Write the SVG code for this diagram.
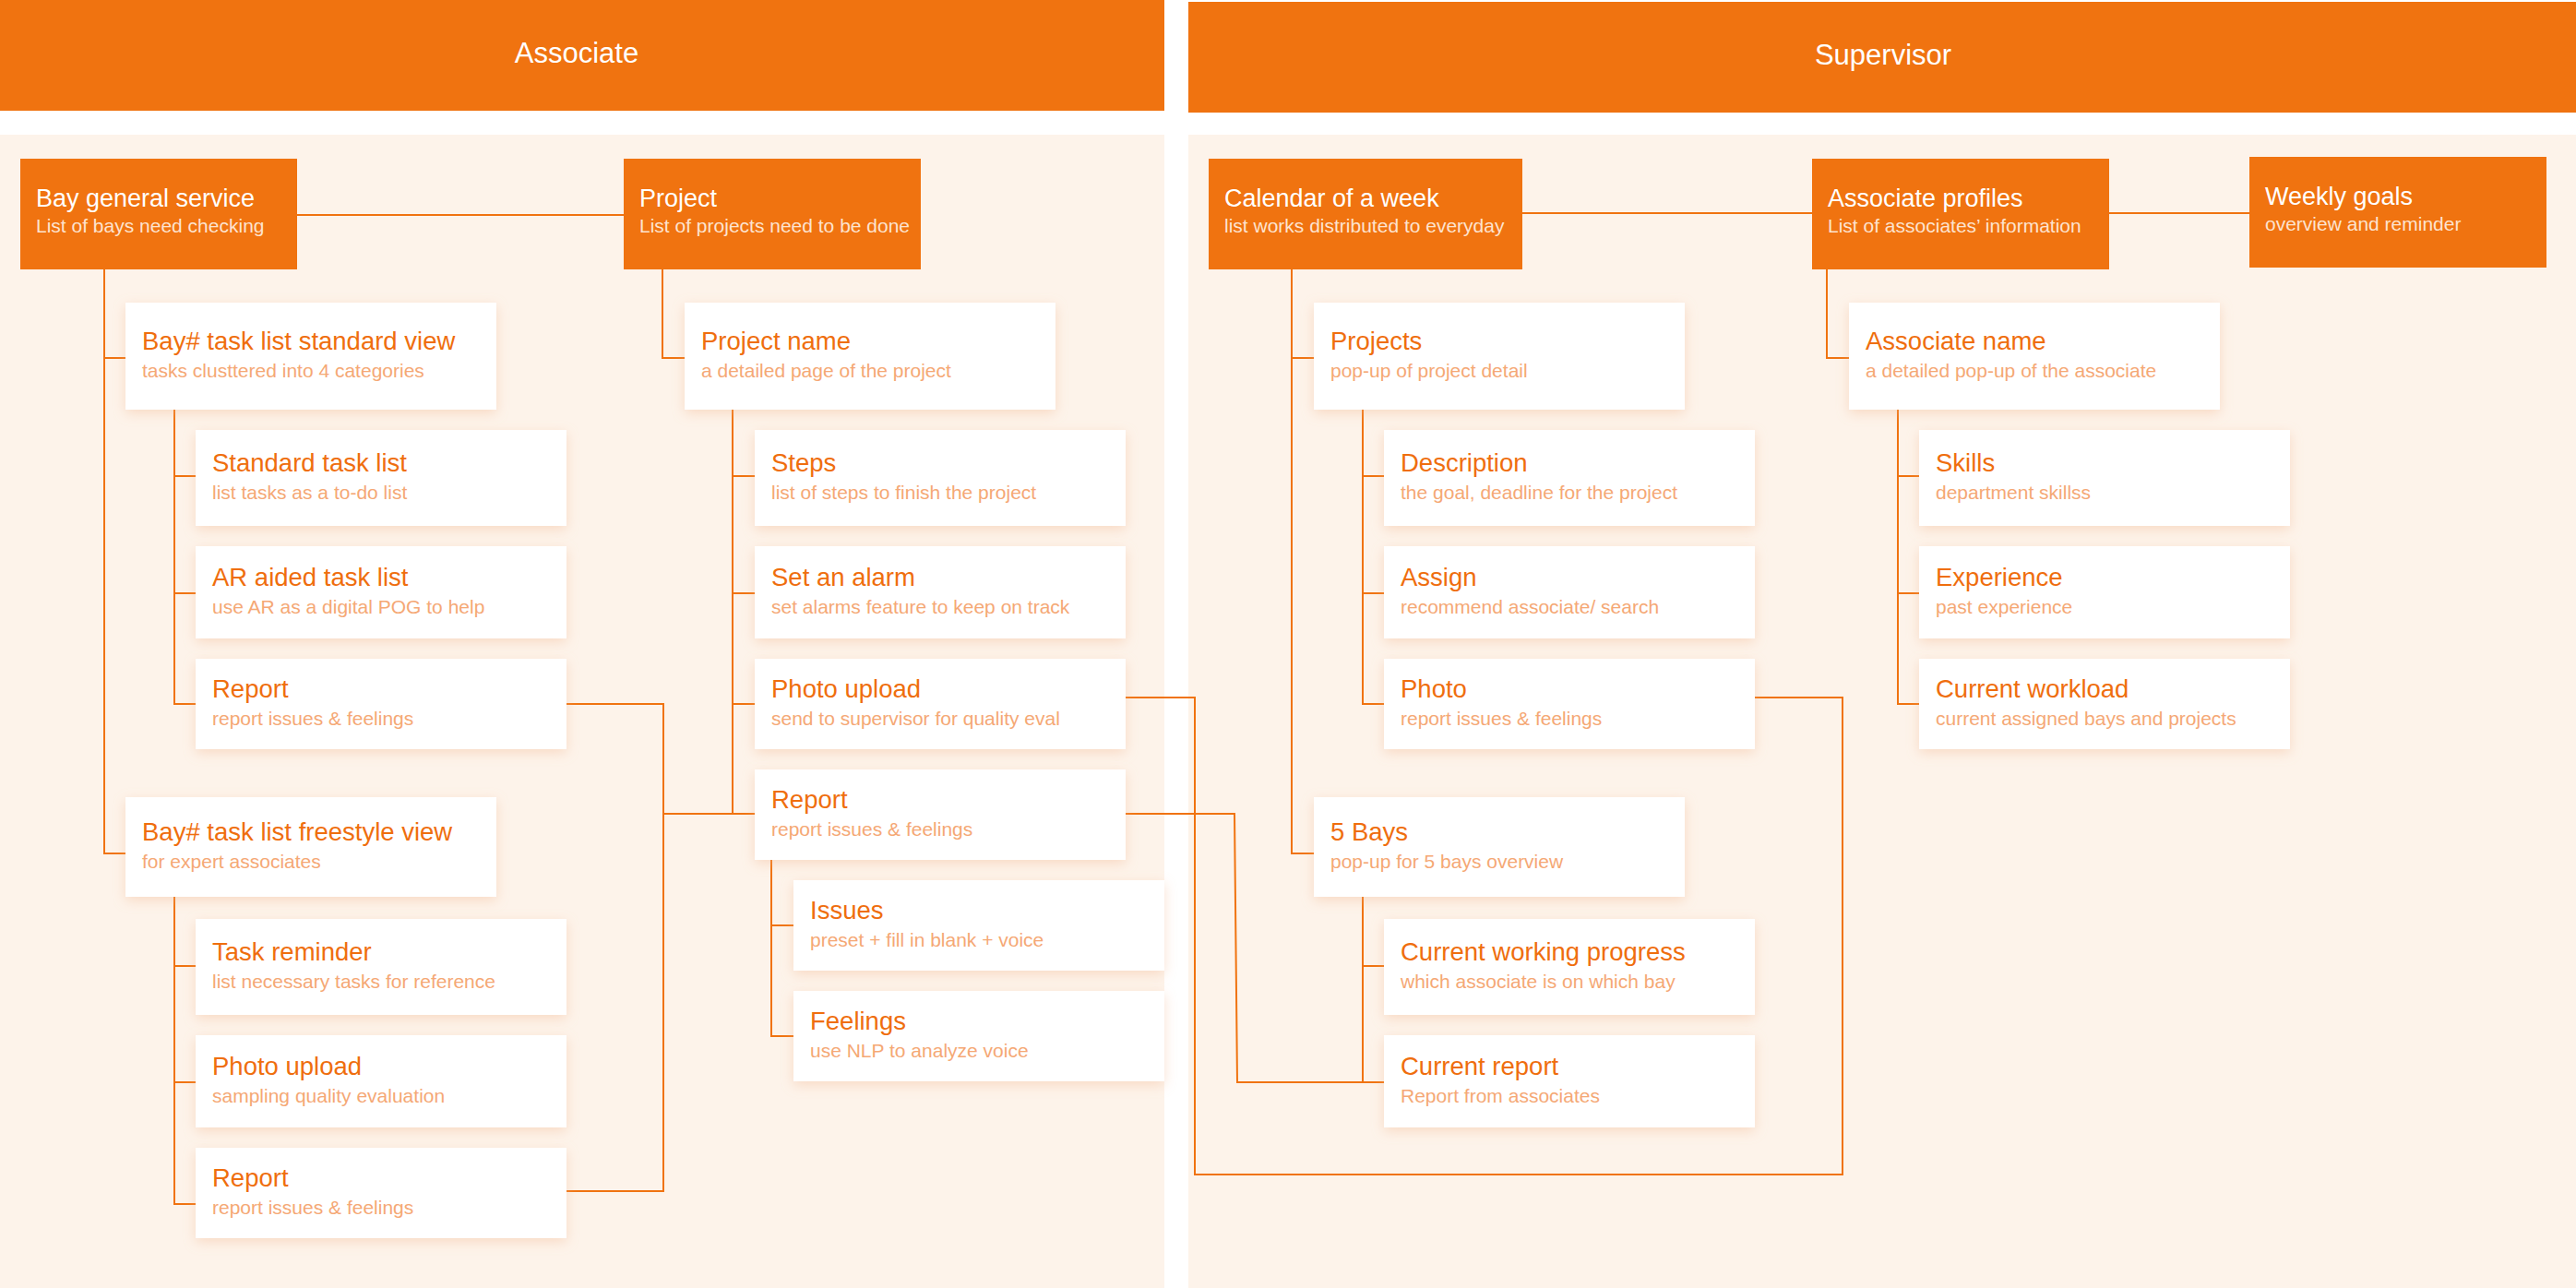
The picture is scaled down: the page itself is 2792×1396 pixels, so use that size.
<svg xmlns="http://www.w3.org/2000/svg" width="2792" height="1396" viewBox="0 0 2792 1396">
<defs>
<filter id="sh" x="-10%" y="-20%" width="120%" height="150%">
<feDropShadow dx="0" dy="4" stdDeviation="7" flood-color="#F2B48A" flood-opacity="0.4"/>
</filter>
<style>
.hdr{fill:#F07310}
.hdrt{font-family:"Liberation Sans",Arial,sans-serif;font-size:31px;fill:#FFFFFF;text-anchor:middle}
.panel{fill:#FDF3EA}
.top rect{fill:#F07310}
.top .t{font-family:"Liberation Sans",Arial,sans-serif;font-size:27px;fill:#FFFFFF}
.top .s{font-family:"Liberation Sans",Arial,sans-serif;font-size:21px;fill:#FDE3CF}
.card rect{fill:#FFFFFF;filter:url(#sh)}
.card .t{font-family:"Liberation Sans",Arial,sans-serif;font-size:27.5px;fill:#EF6E0E}
.card .s{font-family:"Liberation Sans",Arial,sans-serif;font-size:21px;fill:#F5A875}
.ln{fill:none;stroke:#F07310;stroke-width:2}
</style>
</defs>
<rect width="2792" height="1396" fill="#FFFFFF"/>
<rect class="hdr" x="0" y="0" width="1262" height="120"/>
<rect class="hdr" x="1288" y="2" width="1504" height="120"/>
<text class="hdrt" x="625" y="68">Associate</text>
<text class="hdrt" x="2041" y="70">Supervisor</text>
<rect class="panel" x="0" y="146" width="1262" height="1250"/>
<rect class="panel" x="1288" y="146" width="1504" height="1250"/>

<g id="connectors">
<path class="ln" d="M322 233H676"/>
<path class="ln" d="M113 292V925H136"/>
<path class="ln" d="M113 388H136"/>
<path class="ln" d="M189 444V763H212M189 516H212M189 643H212"/>
<path class="ln" d="M189 972V1305H212M189 1047H212M189 1173H212"/>
<path class="ln" d="M718 292V388H742"/>
<path class="ln" d="M794 444V882M794 516H818M794 643H818M794 763H818"/>
<path class="ln" d="M614 763H719V1291H614"/>
<path class="ln" d="M719 882H818"/>
<path class="ln" d="M836 932V1123H860M836 1003H860"/>
<path class="ln" d="M1220 756H1295V1273H1997V756H1902"/>
<path class="ln" d="M1220 882H1338L1341 1173H1500"/>
<path class="ln" d="M1650 231H1964"/>
<path class="ln" d="M2286 231H2438"/>
<path class="ln" d="M1400 292V925H1424M1400 388H1424"/>
<path class="ln" d="M1477 444V763H1500M1477 516H1500M1477 643H1500"/>
<path class="ln" d="M1477 972V1173M1477 1047H1500"/>
<path class="ln" d="M1980 292V388H2004"/>
<path class="ln" d="M2057 444V763H2080M2057 516H2080M2057 643H2080"/>
</g>

<g id="bay-general" class="top"><rect x="22" y="172" width="300" height="120"/><text class="t" x="39" y="224">Bay general service</text><text class="s" x="39" y="252">List of bays need checking</text></g>
<g id="project" class="top"><rect x="676" y="172" width="322" height="120"/><text class="t" x="693" y="224">Project</text><text class="s" x="693" y="252">List of projects need to be done</text></g>

<g id="bay-standard" class="card"><rect x="136" y="328" width="402" height="116"/><text class="t" x="154" y="379">Bay# task list standard view</text><text class="s" x="154" y="409">tasks clusttered into 4 categories</text></g>
<g id="standard-task" class="card"><rect x="212" y="466" width="402" height="104"/><text class="t" x="230" y="511">Standard task list</text><text class="s" x="230" y="541">list tasks as a to-do list</text></g>
<g id="ar-task" class="card"><rect x="212" y="592" width="402" height="100"/><text class="t" x="230" y="635">AR aided task list</text><text class="s" x="230" y="665">use AR as a digital POG to help</text></g>
<g id="report-a1" class="card"><rect x="212" y="714" width="402" height="98"/><text class="t" x="230" y="756">Report</text><text class="s" x="230" y="786">report issues &amp; feelings</text></g>
<g id="bay-freestyle" class="card"><rect x="136" y="864" width="402" height="108"/><text class="t" x="154" y="911">Bay# task list freestyle view</text><text class="s" x="154" y="941">for expert associates</text></g>
<g id="task-reminder" class="card"><rect x="212" y="996" width="402" height="104"/><text class="t" x="230" y="1041">Task reminder</text><text class="s" x="230" y="1071">list necessary tasks for reference</text></g>
<g id="photo-a1" class="card"><rect x="212" y="1122" width="402" height="100"/><text class="t" x="230" y="1165">Photo upload</text><text class="s" x="230" y="1195">sampling quality evaluation</text></g>
<g id="report-a2" class="card"><rect x="212" y="1244" width="402" height="98"/><text class="t" x="230" y="1286">Report</text><text class="s" x="230" y="1316">report issues &amp; feelings</text></g>

<g id="project-name" class="card"><rect x="742" y="328" width="402" height="116"/><text class="t" x="760" y="379">Project name</text><text class="s" x="760" y="409">a detailed page of the project</text></g>
<g id="steps" class="card"><rect x="818" y="466" width="402" height="104"/><text class="t" x="836" y="511">Steps</text><text class="s" x="836" y="541">list of steps to finish the project</text></g>
<g id="alarm" class="card"><rect x="818" y="592" width="402" height="100"/><text class="t" x="836" y="635">Set an alarm</text><text class="s" x="836" y="665">set alarms feature to keep on track</text></g>
<g id="photo-a2" class="card"><rect x="818" y="714" width="402" height="98"/><text class="t" x="836" y="756">Photo upload</text><text class="s" x="836" y="786">send to supervisor for quality eval</text></g>
<g id="report-a3" class="card"><rect x="818" y="834" width="402" height="98"/><text class="t" x="836" y="876">Report</text><text class="s" x="836" y="906">report issues &amp; feelings</text></g>
<g id="issues" class="card"><rect x="860" y="954" width="402" height="98"/><text class="t" x="878" y="996">Issues</text><text class="s" x="878" y="1026">preset + fill in blank + voice</text></g>
<g id="feelings" class="card"><rect x="860" y="1074" width="402" height="98"/><text class="t" x="878" y="1116">Feelings</text><text class="s" x="878" y="1146">use NLP to analyze voice</text></g>

<g id="calendar" class="top"><rect x="1310" y="172" width="340" height="120"/><text class="t" x="1327" y="224">Calendar of a week</text><text class="s" x="1327" y="252">list works distributed to everyday</text></g>
<g id="associate-profiles" class="top"><rect x="1964" y="172" width="322" height="120"/><text class="t" x="1981" y="224">Associate profiles</text><text class="s" x="1981" y="252">List of associates’ information</text></g>
<g id="weekly-goals" class="top"><rect x="2438" y="170" width="322" height="120"/><text class="t" x="2455" y="222">Weekly goals</text><text class="s" x="2455" y="250">overview and reminder</text></g>

<g id="projects" class="card"><rect x="1424" y="328" width="402" height="116"/><text class="t" x="1442" y="379">Projects</text><text class="s" x="1442" y="409">pop-up of project detail</text></g>
<g id="description" class="card"><rect x="1500" y="466" width="402" height="104"/><text class="t" x="1518" y="511">Description</text><text class="s" x="1518" y="541">the goal, deadline for the project</text></g>
<g id="assign" class="card"><rect x="1500" y="592" width="402" height="100"/><text class="t" x="1518" y="635">Assign</text><text class="s" x="1518" y="665">recommend associate/ search</text></g>
<g id="photo-s" class="card"><rect x="1500" y="714" width="402" height="98"/><text class="t" x="1518" y="756">Photo</text><text class="s" x="1518" y="786">report issues &amp; feelings</text></g>
<g id="five-bays" class="card"><rect x="1424" y="864" width="402" height="108"/><text class="t" x="1442" y="911">5 Bays</text><text class="s" x="1442" y="941">pop-up for 5 bays overview</text></g>
<g id="working-progress" class="card"><rect x="1500" y="996" width="402" height="104"/><text class="t" x="1518" y="1041">Current working progress</text><text class="s" x="1518" y="1071">which associate is on which bay</text></g>
<g id="current-report" class="card"><rect x="1500" y="1122" width="402" height="100"/><text class="t" x="1518" y="1165">Current report</text><text class="s" x="1518" y="1195">Report from associates</text></g>

<g id="associate-name" class="card"><rect x="2004" y="328" width="402" height="116"/><text class="t" x="2022" y="379">Associate name</text><text class="s" x="2022" y="409">a detailed pop-up of the associate</text></g>
<g id="skills" class="card"><rect x="2080" y="466" width="402" height="104"/><text class="t" x="2098" y="511">Skills</text><text class="s" x="2098" y="541">department skillss</text></g>
<g id="experience" class="card"><rect x="2080" y="592" width="402" height="100"/><text class="t" x="2098" y="635">Experience</text><text class="s" x="2098" y="665">past experience</text></g>
<g id="workload" class="card"><rect x="2080" y="714" width="402" height="98"/><text class="t" x="2098" y="756">Current workload</text><text class="s" x="2098" y="786">current assigned bays and projects</text></g>
</svg>
